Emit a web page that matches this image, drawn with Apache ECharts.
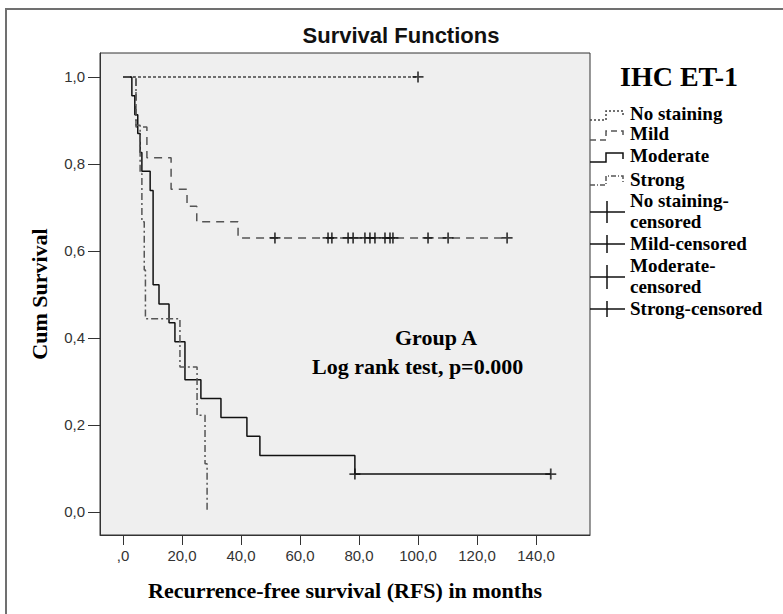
<!DOCTYPE html>
<html>
<head>
<meta charset="utf-8">
<script src="https://cdn.jsdelivr.net/npm/echarts@6/dist/echarts.min.js"></script>
<style>
  html, body { margin: 0; padding: 0; background: #fff; }
  #main { width: 783px; height: 614px; }
</style>
</head>
<body>
<div id="main"></div>
<script>
// Kaplan-Meier curves (time in months, cum survival)
var noStainTime = [0, 100];
var noStainSurv = [1, 1];
var mildTime = [0, 4.4, 8.1, 16.3, 21.7, 25, 39, 130.2];
var mildSurv = [1, 0.885, 0.814, 0.742, 0.703, 0.667, 0.63, 0.63];
var modTime = [0, 3, 4, 5, 5.8, 6.4, 9.2, 10.2, 12.2, 15.6, 17.6, 21, 26.4, 33.2, 42, 46.4, 78.6, 145];
var modSurv = [1, 0.957, 0.913, 0.87, 0.826, 0.783, 0.739, 0.522, 0.478, 0.435, 0.391, 0.304, 0.261, 0.217, 0.174, 0.13, 0.087, 0.087];
var strongTime = [0, 4.4, 5.8, 6.4, 7.2, 7.6, 19.3, 25.1, 27.8, 28.5];
var strongSurv = [1, 0.889, 0.778, 0.667, 0.556, 0.444, 0.333, 0.222, 0.111, 0];

// censored cases
var noStainCens = [100];
var mildCens = [51.5, 69.5, 70.8, 76.3, 78, 82, 83.7, 85.4, 88.8, 90.5, 91.5, 103.4, 110.2, 130.2];
var modCens = [78.6, 145];

var xTicks = [0, 20, 40, 60, 80, 100, 120, 140];
var yTicks = [0, 0.2, 0.4, 0.6, 0.8, 1.0];

var myChart = echarts.init(document.getElementById('main'), null, {renderer: 'svg'});

function pairs(t, s) {
    var res = [];
    for (var i = 0; i < t.length; i++) res.push([t[i], s[i]]);
    return res;
}
function censPairs(t, s) {
    // survival level at each censored time
    var res = [];
    for (var i = 0; i < t.length; i++) res.push([t[i], s]);
    return res;
}

var plus = 'path://M4.2,0H5.8V4.2H10V5.8H5.8V10H4.2V5.8H0V4.2H4.2Z';
var serif = 'Liberation Serif';

function kmLine(name, t, s, color, dash) {
    return {
        name: name,
        type: 'line',
        step: 'end',
        showSymbol: false,
        data: pairs(t, s),
        lineStyle: {color: color, width: 1.5, type: dash},
        z: 3
    };
}
function censSeries(name, t, s) {
    return {
        name: name,
        type: 'scatter',
        symbol: plus,
        symbolSize: 11,
        data: censPairs(t, s),
        itemStyle: {color: '#111'},
        z: 4
    };
}

// legend samples drawn next to the plot border
var legendTxt = {fontFamily: serif, fontWeight: 'bold', fontSize: 19, fill: '#000'};
function legText(str, y) {
    return {type: 'text', left: 630, top: y - 11, style: Object.assign({text: str}, legendTxt)};
}
function legStep(y, color, dash) {
    return {
        type: 'polyline',
        shape: {points: [[590, y + 5], [606, y + 5], [606, y - 4], [623, y - 4], [623, y + 2]]},
        style: {stroke: color, lineWidth: 1.5, lineDash: dash, fill: null}
    };
}
function legCens(y, h) {
    return [
        {type: 'line', shape: {x1: 590, y1: y, x2: 625, y2: y}, style: {stroke: '#111', lineWidth: 1.5}},
        {type: 'line', shape: {x1: 607, y1: y - h, x2: 607, y2: y + h}, style: {stroke: '#111', lineWidth: 1.5}}
    ];
}

var option = {
    animation: false,
    backgroundColor: '#fff',
    title: {
        text: 'Survival Functions',
        left: 396,
        top: 19,
        textAlign: 'center',
        textStyle: {fontFamily: 'Liberation Sans', fontWeight: 'bold', fontSize: 22, color: '#111'}
    },
    grid: {
        left: 100, top: 53, right: 193, bottom: 79,
        show: true,
        backgroundColor: '#efefef',
        borderColor: '#333',
        borderWidth: 1
    },
    xAxis: {
        type: 'value',
        min: -7.8,
        max: 158.3,
        name: 'Recurrence-free survival (RFS) in months',
        nameLocation: 'middle',
        nameGap: 44,
        nameTextStyle: {fontFamily: serif, fontWeight: 'bold', fontSize: 22, color: '#000'},
        splitLine: {show: false},
        axisLine: {onZero: false, lineStyle: {color: '#333'}},
        axisTick: {customValues: xTicks, length: 10, lineStyle: {color: '#333'}},
        axisLabel: {
            customValues: xTicks,
            margin: 13,
            color: '#333',
            fontFamily: 'Liberation Sans',
            fontSize: 15,
            formatter: function (v) { return v === 0 ? ',0' : v.toFixed(1).replace('.', ','); }
        }
    },
    yAxis: {
        type: 'value',
        min: -0.053,
        max: 1.055,
        name: 'Cum Survival',
        nameLocation: 'middle',
        nameGap: 50,
        nameTextStyle: {fontFamily: serif, fontWeight: 'bold', fontSize: 22, color: '#000'},
        splitLine: {show: false},
        axisLine: {onZero: false, lineStyle: {color: '#333'}},
        axisTick: {customValues: yTicks, length: 12, lineStyle: {color: '#333'}},
        axisLabel: {
            customValues: yTicks,
            margin: 15,
            color: '#333',
            fontFamily: 'Liberation Sans',
            fontSize: 15,
            formatter: function (v) { return v.toFixed(1).replace('.', ','); }
        }
    },
    graphic: [
        {type: 'rect', shape: {x: 6, y: 9, width: 820, height: 700}, style: {fill: null, stroke: '#707070', lineWidth: 2}, z: -10},
        {type: 'text', left: 620, top: 62, style: {text: 'IHC ET-1', fontFamily: serif, fontWeight: 'bold', fontSize: 28, fill: '#000'}},
        legStep(115, '#444', [2, 2]),
        legStep(135, '#555', [6, 4]),
        legStep(157, '#111', null),
        legStep(180, '#555', [5, 2, 1, 2]),
        legText('No staining', 115),
        legText('Mild', 135),
        legText('Moderate', 157),
        legText('Strong', 181),
        legText('No staining-', 202),
        legText('censored', 223),
        legText('Mild-censored', 245),
        legText('Moderate-', 267),
        legText('censored', 288),
        legText('Strong-censored', 310)
    ].concat(legCens(212, 11), legCens(244, 9), legCens(277, 12), legCens(309, 8), [
        {type: 'text', left: 395, top: 326, style: {text: 'Group A', fontFamily: serif, fontWeight: 'bold', fontSize: 22, fill: '#000'}},
        {type: 'text', left: 312, top: 355, style: {text: 'Log rank test, p=0.000', fontFamily: serif, fontWeight: 'bold', fontSize: 22, fill: '#000'}}
    ]),
    series: [
        kmLine('No staining', noStainTime, noStainSurv, '#444', [3, 2]),
        kmLine('Mild', mildTime, mildSurv, '#555', [8, 6]),
        kmLine('Moderate', modTime, modSurv, '#111', 'solid'),
        kmLine('Strong', strongTime, strongSurv, '#555', [7, 3, 2, 3]),
        censSeries('No staining-censored', noStainCens, 1),
        censSeries('Mild-censored', mildCens, 0.63),
        censSeries('Moderate-censored', modCens, 0.087)
    ]
};
myChart.setOption(option);
</script>
</body>
</html>
